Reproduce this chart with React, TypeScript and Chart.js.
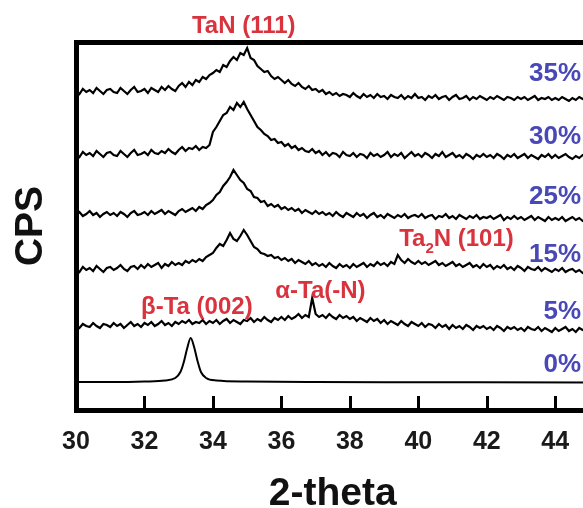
import { useEffect, useRef } from "react";
import { Chart, registerables } from "chart.js";

Chart.register(...registerables);

// Diffraction angle grid (2-theta, degrees), 0.1 deg step from 30 to 45
const ANGLE_COUNT = 151;
const ANGLES = Array.from({ length: ANGLE_COUNT }, (_, i) => Math.round((30 + i * 0.1) * 10) / 10);

// Stacked intensities (arbitrary CPS, offset per sample), one value per angle
const CPS_35 = [
  319, 316, 321, 318, 320, 317, 322, 319, 316, 320,
  321, 318, 317, 322, 319, 316, 320, 323, 318, 319,
  321, 317, 322, 320, 318, 323, 320, 324, 321, 319,
  324, 327, 323, 328, 325, 330, 328, 333, 331, 335,
  337, 340, 338, 345, 343, 349, 353, 350, 357, 355,
  362, 352, 350, 344, 341, 338, 339, 334, 331, 333,
  330, 327, 330, 326, 324, 327, 323, 321, 324, 320,
  321, 318, 320, 316, 318, 315, 317, 314, 316, 315,
  313, 317, 314, 312, 316, 313, 315, 312, 316, 313,
  314, 311, 315, 313, 312, 315, 311, 314, 312, 316,
  312, 313, 310, 314, 312, 315, 311, 313, 314, 310,
  313, 315, 311, 312, 314, 310, 313, 311, 314, 312,
  310, 313, 311, 314, 312, 310, 313, 312, 310, 313,
  311, 313, 310, 312, 314, 310, 312, 311, 313, 310,
  312, 310, 313, 311, 309, 312, 310, 313, 311, 310,
  312,
];

const CPS_30 = [
  256, 253, 258, 255, 257, 254, 259, 256, 253, 257,
  258, 255, 254, 259, 256, 253, 257, 260, 255, 256,
  258, 255, 260, 257, 256, 259, 257, 261, 258, 256,
  260, 263, 259, 262, 261, 264, 260, 263, 262, 265,
  278, 283, 289, 295, 297, 303, 300, 307, 303, 308,
  301, 295, 289, 283, 280, 276, 274, 270, 271, 267,
  268, 264, 266, 262, 264, 260, 262, 259, 258, 261,
  257, 259, 255, 258, 254, 257, 256, 253, 258, 255,
  254, 257, 253, 256, 255, 252, 257, 254, 256, 253,
  255, 258, 253, 256, 254, 257, 252, 255, 258, 254,
  256, 253, 257, 255, 252, 256, 254, 258, 253, 255,
  257, 253, 255, 252, 256, 254, 251, 255, 253, 256,
  253, 255, 252, 256, 254, 251, 255, 253, 256, 252,
  254, 256, 252, 255, 253, 251, 255, 253, 256, 252,
  255, 252, 254, 256, 253, 251, 254, 252, 255, 253,
  254,
];

const CPS_25 = [
  195, 198, 194, 196, 199, 195, 197, 193, 196, 198,
  195, 197, 194, 198, 196, 193, 197, 199, 195, 196,
  198, 195, 199, 196, 198, 200, 196, 199, 197, 195,
  199, 201, 198, 200, 202, 199, 203, 201, 205, 207,
  210, 215, 218, 224, 228, 233, 240, 235, 230, 227,
  221, 219, 213, 212, 208, 209, 204, 206, 203, 205,
  201, 203, 200, 202, 199, 201, 197, 200, 198, 196,
  199, 196, 198, 195, 197, 194, 198, 195, 193, 197,
  195, 193, 197, 194, 196, 192, 195, 197, 193, 195,
  192, 196, 194, 192, 195, 193, 196, 192, 194, 195,
  193, 196, 192, 194, 195, 191, 194, 193, 196, 192,
  194, 191, 195, 193, 191, 194, 192, 195, 191, 193,
  192, 194, 191, 193, 195, 190, 193, 191, 194, 191,
  193, 190, 192, 194, 190, 193, 191, 189, 193, 190,
  192, 190, 193, 189, 191, 193, 190, 192, 189, 191,
  191,
];

const CPS_15 = [
  141, 138, 143, 140, 142, 139, 144, 141, 138, 142,
  143, 140, 142, 145, 141, 139, 143, 144, 141, 145,
  142, 146, 143, 145, 147, 142, 146, 144, 148, 145,
  147, 145, 149, 147, 150, 148, 151, 149, 153, 155,
  157, 162, 166, 164, 170, 177, 171, 169, 174, 180,
  175, 169, 163, 161, 157, 156, 154, 155, 152, 153,
  150, 152, 149, 151, 147, 150, 148, 146, 149, 145,
  147, 144, 146, 143, 147, 144, 142, 146, 143, 145,
  142, 146, 143, 145, 147, 143, 146, 144, 148, 145,
  147, 144, 148, 146, 155, 150, 147, 151, 148, 146,
  149, 146, 148, 145, 147, 149, 145, 147, 144, 146,
  148, 144, 146, 143, 145, 147, 143, 145, 142, 146,
  143, 145, 141, 144, 142, 145, 141, 143, 140, 144,
  142, 139, 143, 141, 140, 143, 139, 142, 140, 138,
  141, 139, 142, 138, 140, 141, 138, 140, 137, 139,
  139,
];

const CPS_5 = [
  85, 82, 86, 84, 83, 87, 84, 82, 86, 85,
  83, 87, 84, 86, 82, 85, 88, 84, 86, 83,
  87, 85, 88, 84, 86, 89, 85, 87, 84, 88,
  86, 89, 87, 90, 86, 88, 87, 90, 86, 89,
  87, 90, 86, 89, 91, 87, 90, 88, 86, 90,
  89, 92, 88, 91, 89, 93, 90, 88, 92, 90,
  93, 90, 94, 91, 93, 96, 92, 95, 93, 112,
  96, 93, 95, 92, 96, 93, 91, 95, 92, 94,
  91, 93, 89, 92, 90, 88, 92, 89, 91, 87,
  90, 86, 89, 87, 85, 89, 86, 84, 88, 86,
  84, 87, 83, 86, 85, 82, 86, 83, 85, 81,
  85, 82, 84, 81, 85, 83, 80, 84, 82, 84,
  81, 83, 80, 84, 82, 79, 83, 81, 83, 80,
  82, 79, 83, 81, 80, 83, 79, 82, 80, 78,
  82, 79, 81, 83, 79, 81, 78, 82, 80, 79,
  81,
];

// 0% sample: smooth pattern with beta-Ta (002) peak
const ANGLES_0 = [30, 31, 32, 32.6, 32.9, 33.05, 33.15, 33.25, 33.35, 33.45, 33.55, 33.65, 33.8, 34.1, 35, 37, 40, 45];
const CPS_0 = [28, 28, 28.5, 29.5, 32, 38, 48, 62, 72, 63, 49, 38, 32, 29.5, 28.5, 28, 27.8, 27.5];

const X_TICKS = [30, 32, 34, 36, 38, 40, 42, 44];
const SAMPLE_LABELS = ["35%", "30%", "25%", "15%", "5%", "0%"];
const SAMPLE_LABEL_LEVELS = [329.5, 266.5, 206.5, 148.5, 91.5, 38.5];

const PHASE_LABELS = ["TaN (111)", "β-Ta (002)", "α-Ta(-N)"];
const PHASE_LABEL_ANGLES = [34.9, 33.53, 37.14];
const PHASE_LABEL_LEVELS = [377, 96, 112];

const FONT = '"Liberation Sans", Arial, Helvetica, sans-serif';
const RED = "#d9333d";
const BLUE = "#4848b6";

const decorPlugin = {
  id: "xrdDecor",
  afterDraw(chart: any) {
    const ctx = chart.ctx as CanvasRenderingContext2D;
    const xs = chart.scales.x;
    const ys = chart.scales.y;
    const area = chart.chartArea;
    ctx.save();

    // inward tick marks
    ctx.strokeStyle = "#000";
    ctx.lineWidth = 3;
    X_TICKS.forEach((t) => {
      if (t === 30) return;
      const px = Math.round(xs.getPixelForValue(t)) + 0.5;
      ctx.beginPath();
      ctx.moveTo(px, area.bottom - 14);
      ctx.lineTo(px, area.bottom);
      ctx.stroke();
    });

    // axis titles
    ctx.fillStyle = "#111";
    ctx.font = `bold 39px ${FONT}`;
    ctx.textAlign = "center";
    ctx.textBaseline = "alphabetic";
    ctx.fillText("2-theta", (area.left + area.right) / 2, 505);
    ctx.save();
    ctx.translate(42, (area.top + area.bottom) / 2);
    ctx.rotate(-Math.PI / 2);
    ctx.fillText("CPS", 0, 0);
    ctx.restore();

    // sample labels (right side)
    ctx.fillStyle = BLUE;
    ctx.font = `bold 26px ${FONT}`;
    ctx.textAlign = "right";
    SAMPLE_LABELS.forEach((s, i) => {
      ctx.fillText(s, 581, ys.getPixelForValue(SAMPLE_LABEL_LEVELS[i]));
    });

    // phase labels
    ctx.fillStyle = RED;
    ctx.font = `bold 24px ${FONT}`;
    ctx.textAlign = "center";
    PHASE_LABELS.forEach((s, i) => {
      ctx.fillText(s, xs.getPixelForValue(PHASE_LABEL_ANGLES[i]), ys.getPixelForValue(PHASE_LABEL_LEVELS[i]));
    });

    // Ta2N (101) with subscript
    ctx.textAlign = "left";
    let px = xs.getPixelForValue(39.44);
    const py = ys.getPixelForValue(164);
    ctx.font = `bold 24px ${FONT}`;
    ctx.fillText("Ta", px, py);
    px += ctx.measureText("Ta").width;
    ctx.font = `bold 15px ${FONT}`;
    ctx.fillText("2", px, py + 7);
    px += ctx.measureText("2").width;
    ctx.font = `bold 24px ${FONT}`;
    ctx.fillText("N (101)", px, py);

    ctx.restore();
  },
};

export default function App() {
  const ref = useRef<HTMLCanvasElement | null>(null);

  useEffect(() => {
    if (!ref.current) return;
    const noisy = [CPS_35, CPS_30, CPS_25, CPS_15, CPS_5];
    const datasets: any[] = noisy.map((vals, i) => ({
      label: SAMPLE_LABELS[i],
      data: vals.map((v, j) => ({ x: ANGLES[j], y: v })),
      borderColor: "#000",
      borderWidth: 2.2,
      pointRadius: 0,
      tension: 0,
      fill: false,
    }));
    datasets.push({
      label: SAMPLE_LABELS[5],
      data: CPS_0.map((v, j) => ({ x: ANGLES_0[j], y: v })),
      borderColor: "#000",
      borderWidth: 2,
      pointRadius: 0,
      tension: 0.35,
      cubicInterpolationMode: "monotone",
      fill: false,
    });

    const chart = new Chart(ref.current, {
      type: "line",
      data: { datasets },
      plugins: [decorPlugin],
      options: {
        animation: false,
        responsive: false,
        devicePixelRatio: 1,
        layout: { padding: { left: 0, right: 2.5, top: 0, bottom: 0 } },
        plugins: { legend: { display: false }, tooltip: { enabled: false } },
        scales: {
          x: {
            type: "linear",
            position: "bottom",
            min: 30,
            max: 45,
            afterBuildTicks: (s: any) => {
              s.ticks = X_TICKS.map((v) => ({ value: v }));
            },
            ticks: {
              padding: 17,
              maxRotation: 0,
              autoSkip: false,
              color: "#1a1a1a",
              font: { family: FONT, size: 25, weight: "bold" },
            },
            grid: { display: true, drawOnChartArea: false, drawTicks: false },
            border: { display: true, width: 5, color: "#000" },
            afterFit: (s: any) => {
              s.height = 98;
            },
          },
          x2: {
            type: "linear",
            position: "top",
            min: 30,
            max: 45,
            ticks: { display: false },
            grid: { display: true, drawOnChartArea: false, drawTicks: false },
            border: { display: true, width: 5, color: "#000" },
            afterFit: (s: any) => {
              s.height = 42;
            },
          },
          y: {
            type: "linear",
            min: 0,
            max: 368,
            ticks: { display: false },
            grid: { display: true, drawOnChartArea: false, drawTicks: false },
            border: { display: true, width: 5, color: "#000" },
            afterFit: (s: any) => {
              s.width = 76;
            },
          },
        },
      },
    });
    return () => chart.destroy();
  }, []);

  return (
    <div
      style={{
        position: "fixed",
        left: 0,
        top: 0,
        width: 583,
        height: 508,
        overflow: "hidden",
        background: "#fff",
      }}
    >
      <canvas ref={ref} width={592} height={508} style={{ width: 592, height: 508, display: "block" }} />
    </div>
  );
}
